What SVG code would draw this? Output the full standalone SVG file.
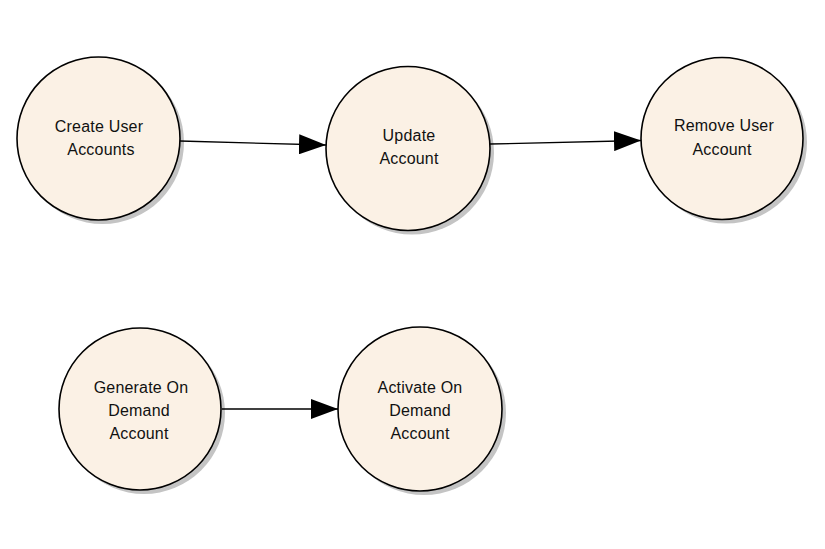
<svg xmlns="http://www.w3.org/2000/svg" width="825" height="549" viewBox="0 0 825 549">
<defs>
<style>
.shadow{fill:#c4c4c4;stroke:none}
.node{fill:#fbf1e5;stroke:#000;stroke-width:1.6}
.lbl{font-family:"Liberation Sans",Arial,sans-serif;font-size:16px;fill:#111;text-anchor:middle;letter-spacing:0.2px}
.conn{stroke:#000;stroke-width:1.3;fill:none}
</style>
<marker id="arr" viewBox="0 0 27 20" refX="27" refY="10" markerWidth="27" markerHeight="20" markerUnits="userSpaceOnUse" orient="auto">
<path d="M0,0 L27,10 L0,20 Z" fill="#000"/>
</marker>
</defs>
<rect width="825" height="549" fill="#fff"/>
<g id="create-user-accounts">
<circle class="shadow" cx="102.5" cy="142.5" r="81.5"/>
<circle class="node" cx="98.5" cy="138.5" r="81.5"/>
<text class="lbl" x="99" y="132">Create User</text>
<text class="lbl" x="101" y="155">Accounts</text>
</g>
<g id="update-account">
<circle class="shadow" cx="412" cy="152.5" r="82"/>
<circle class="node" cx="408" cy="148.5" r="82"/>
<text class="lbl" x="409" y="141">Update</text>
<text class="lbl" x="409" y="164">Account</text>
</g>
<g id="remove-user-account">
<circle class="shadow" cx="726" cy="142.5" r="81"/>
<circle class="node" cx="722" cy="138.5" r="81"/>
<text class="lbl" x="724" y="131">Remove User</text>
<text class="lbl" x="722" y="155">Account</text>
</g>
<g id="generate-on-demand-account">
<circle class="shadow" cx="144" cy="413" r="81"/>
<circle class="node" cx="140" cy="409" r="81"/>
<text class="lbl" x="141" y="393">Generate On</text>
<text class="lbl" x="139" y="416">Demand</text>
<text class="lbl" x="139" y="439">Account</text>
</g>
<g id="activate-on-demand-account">
<circle class="shadow" cx="424" cy="413" r="82"/>
<circle class="node" cx="420" cy="409" r="82"/>
<text class="lbl" x="420" y="393">Activate On</text>
<text class="lbl" x="420" y="416">Demand</text>
<text class="lbl" x="420" y="439">Account</text>
</g>
<g id="connectors">
<line class="conn" x1="180" y1="141" x2="326" y2="145" marker-end="url(#arr)"/>
<line class="conn" x1="490" y1="144" x2="641" y2="140.5" marker-end="url(#arr)"/>
<line class="conn" x1="222" y1="409" x2="338" y2="409" marker-end="url(#arr)"/>
</g>
</svg>
